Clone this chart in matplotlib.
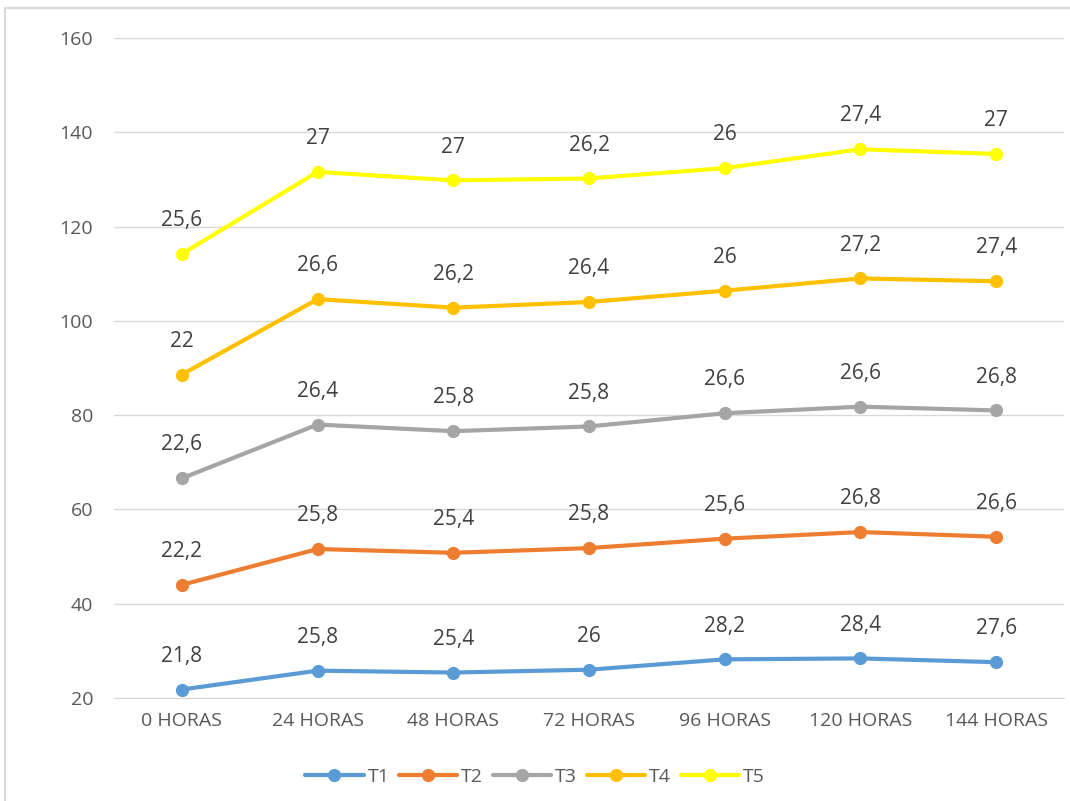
import matplotlib
matplotlib.use("Agg")
import matplotlib.pyplot as plt
from matplotlib.patches import Rectangle
import numpy as np

categories = ["0 HORAS", "24 HORAS", "48 HORAS", "72 HORAS", "96 HORAS", "120 HORAS", "144 HORAS"]
series_names = ["T1", "T2", "T3", "T4", "T5"]
T1 = [21.8, 25.8, 25.4, 26.0, 28.2, 28.4, 27.6]
T2 = [22.2, 25.8, 25.4, 25.8, 25.6, 26.8, 26.6]
T3 = [22.6, 26.4, 25.8, 25.8, 26.6, 26.6, 26.8]
T4 = [22.0, 26.6, 26.2, 26.4, 26.0, 27.2, 27.4]
T5 = [25.6, 27.0, 27.0, 26.2, 26.0, 27.4, 27.0]
colors = ["#5B9BD5", "#ED7D31", "#A5A5A5", "#FFC000", "#FFFF00"]

plt.rcParams['font.family'] = ['Open Sans', 'DejaVu Sans']

fig = plt.figure(figsize=(10.70, 8.01), dpi=100)
fig.patches.append(Rectangle((5/1070, -0.2), 1.2, 1.2 - 8/801, transform=fig.transFigure,
                             fill=False, edgecolor="#D9D9D9", linewidth=1.5))
ax = fig.add_axes([114/1070, 1 - 698/801, 950/1070, 660/801])

x = np.arange(len(categories))
cum = np.zeros(len(categories))
for name, vals, c in zip(series_names, [T1, T2, T3, T4, T5], colors):
    vals = np.array(vals)
    cum = cum + vals
    ax.plot(x, cum, color=c, linewidth=3, marker="o", markersize=8.5,
            label=name, solid_capstyle="round", zorder=3)
    for xi, yi, v in zip(x, cum, vals):
        s = ("%g" % v).replace(".", ",")
        ax.annotate(s, (xi, yi), xytext=(0, 24), textcoords="offset points",
                    ha="center", va="center", fontsize=15, color="#404040")

ax.set_xlim(-0.5, len(categories) - 0.5)
ax.set_ylim(20, 160)
ax.set_yticks(np.arange(20, 161, 20))
ax.set_xticks(x)
ax.set_xticklabels(categories)
ax.tick_params(axis="both", length=0, labelsize=14, labelcolor="#595959")
ax.tick_params(axis="y", pad=15)
ax.tick_params(axis="x", pad=10)
ax.grid(axis="y", color="#D9D9D9", linewidth=1)
ax.set_axisbelow(True)
for sp in ["top", "right", "left"]:
    ax.spines[sp].set_visible(False)
ax.spines["bottom"].set_color("#D9D9D9")

leg = fig.legend(loc="center", bbox_to_anchor=(0.5, 1 - 777/801), ncol=5, frameon=False,
                 fontsize=14, handlelength=3.0, columnspacing=0.5, handletextpad=0.2,
                 labelcolor="#595959")
fig.savefig("out.png", dpi=100)
